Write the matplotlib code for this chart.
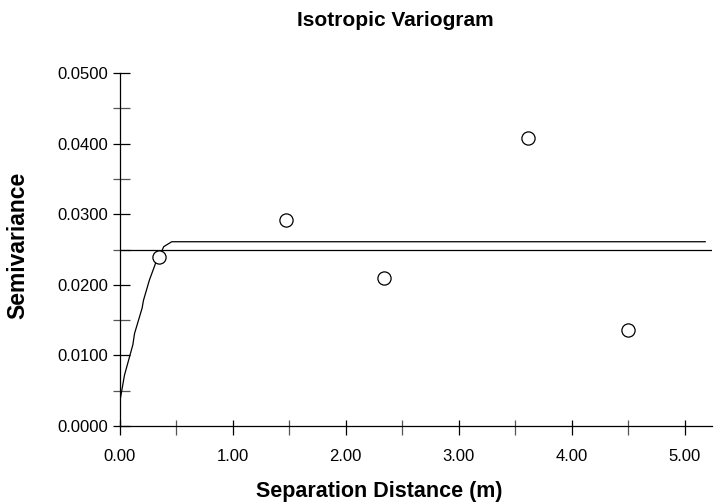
import matplotlib
matplotlib.use("Agg")
import matplotlib.pyplot as plt
from matplotlib.ticker import MultipleLocator, FormatStrFormatter

plt.rcParams['font.family'] = ['Liberation Sans', 'DejaVu Sans']

# Experimental semivariogram points
lag_dist = [0.345, 1.475, 2.34, 3.61, 4.50]
semivar = [0.0240, 0.0292, 0.0210, 0.0408, 0.0136]

# Fitted model curve
model_x = [0.0, 0.044, 0.118, 0.133, 0.200, 0.212, 0.265, 0.309, 0.324, 0.353, 0.391, 0.462, 5.18]
model_y = [0.0032, 0.0072, 0.0115, 0.0131, 0.0167, 0.0178, 0.0207, 0.0226, 0.0233, 0.0240, 0.0254, 0.0261, 0.0261]

# Sample variance line
variance = 0.0249
x_max = 5.24

W, H = 723, 504
fig = plt.figure(figsize=(W/100, H/100), dpi=100)
ax = fig.add_axes([119.5/W, (H-426)/H, (712-119.5)/W, (426-73)/H])

ax.plot(model_x, model_y, color='black', lw=0.9)
ax.plot([0, x_max], [variance, variance], color='black', lw=0.9)
ax.plot(lag_dist, semivar, linestyle='none', marker='o', markersize=9.5,
        markerfacecolor='white', markeredgecolor='black', markeredgewidth=0.9)

ax.set_xlim(0, x_max)
ax.set_ylim(0, 0.05)
ax.spines['top'].set_visible(False)
ax.spines['right'].set_visible(False)
for s in ('left', 'bottom'):
    ax.spines[s].set_linewidth(0.9)

def set_locators(xa, ya):
    if xa is not None:
        xa.set_major_locator(MultipleLocator(1.0))
        xa.set_minor_locator(MultipleLocator(0.5))
    if ya is not None:
        ya.set_major_locator(MultipleLocator(0.01))
        ya.set_minor_locator(MultipleLocator(0.005))

set_locators(ax.xaxis, ax.yaxis)
ax.xaxis.set_major_formatter(FormatStrFormatter('%.2f'))
ax.yaxis.set_major_formatter(FormatStrFormatter('%.4f'))

# outward ticks (with labels)
ax.tick_params(axis='x', which='both', direction='out', length=6.5, width=0.9,
               labelsize=12, pad=10)
ax.tick_params(axis='y', which='both', direction='out', length=4.7, width=0.9,
               labelsize=12, pad=3.5)
ax.tick_params(which='minor', color='#555555')

# inward parts of the ticks
secx = ax.secondary_xaxis('bottom')
set_locators(secx.xaxis, None)
secx.tick_params(which='both', direction='in', length=4.3, width=0.9, labelbottom=False)
secx.tick_params(which='minor', color='#555555')
secx.spines['bottom'].set_visible(False)

secy = ax.secondary_yaxis('left')
set_locators(None, secy.yaxis)
secy.tick_params(which='both', direction='in', length=7.2, width=0.9, labelleft=False)
secy.tick_params(which='minor', color='#555555')
secy.spines['left'].set_visible(False)

fig.text(379/W, 1 - 492/H, 'Separation Distance (m)', ha='center', va='center',
         fontsize=15.5, fontweight='bold')
fig.text(18/W, 1 - 245/H, 'Semivariance', ha='center', va='center', rotation=90,
         fontsize=16.5, fontweight='bold')
fig.text(395/W, 1 - 20/H, 'Isotropic Variogram', ha='center', va='center',
         fontsize=15, fontweight='bold')

fig.savefig('out.png', dpi=100)
